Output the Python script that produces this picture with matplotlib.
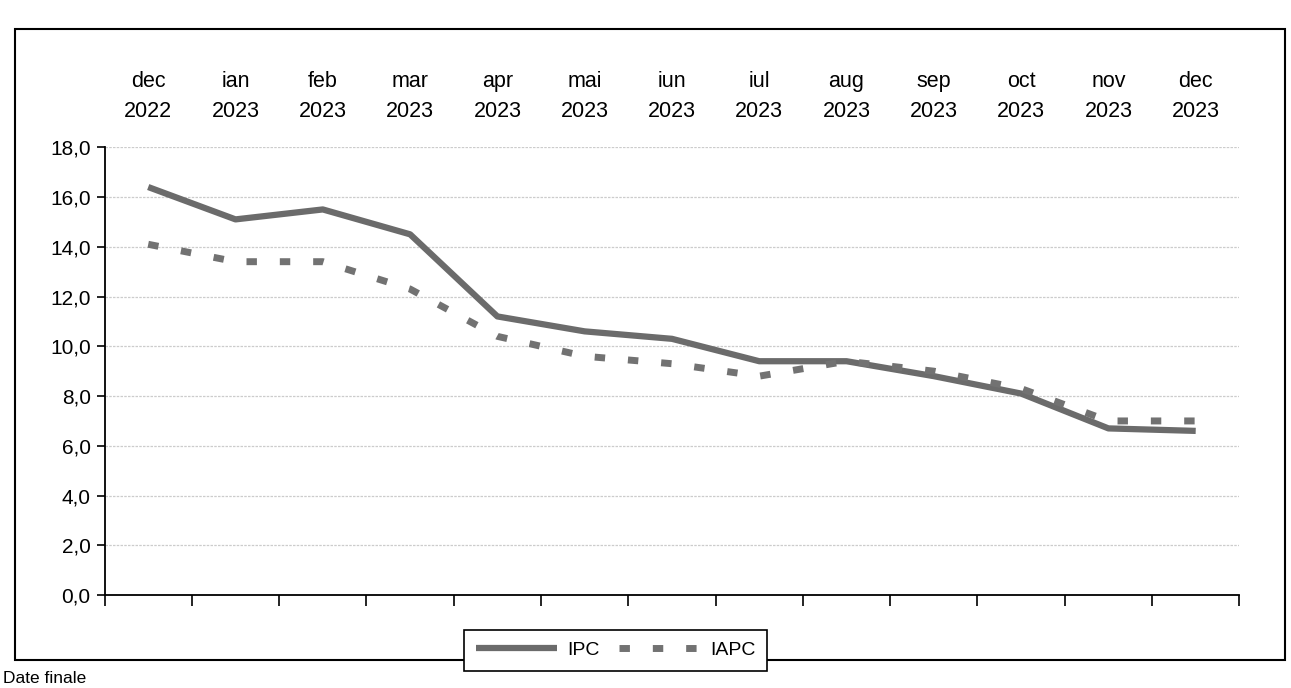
import matplotlib
matplotlib.use("Agg")
import matplotlib.pyplot as plt
from matplotlib.patches import Rectangle
import numpy as np

plt.rcParams['font.family'] = ['Liberation Sans', 'DejaVu Sans']

months = ["dec", "ian", "feb", "mar", "apr", "mai", "iun",
          "iul", "aug", "sep", "oct", "nov", "dec"]
years = ["2022"] + ["2023"] * 12
ipc = [16.4, 15.1, 15.5, 14.5, 11.2, 10.6, 10.3, 9.4, 9.4, 8.8, 8.1, 6.7, 6.6]
iapc = [14.1, 13.4, 13.4, 12.3, 10.4, 9.6, 9.3, 8.8, 9.4, 9.0, 8.3, 7.0, 7.0]
y_ticks = np.arange(0, 18.1, 2)

fig = plt.figure(figsize=(12.91, 6.88), dpi=100)
ax = fig.add_axes([0.081, 0.135, 0.879, 0.651])

x = np.arange(len(months))
ax.plot(x, ipc, color='#6b6b6b', lw=4.5, solid_capstyle='butt', label='IPC')
ax.plot(x, iapc, color='#727272', lw=5, dashes=(1.5, 3.3),
        dash_capstyle='butt', label='IAPC')

ax.set_xlim(-0.5, len(months) - 0.5)
ax.set_ylim(0, 18)
ax.set_yticks(y_ticks)
ax.set_yticklabels(["{:.1f}".format(v).replace(".", ",") for v in y_ticks],
                   fontsize=15)
ax.grid(axis='y', color='#cccccc', lw=0.9, ls=(0, (2, 1)))
ax.set_axisbelow(True)

# category boundaries as ticks on the bottom axis, no labels
ax.set_xticks(np.arange(-0.5, len(months), 1))
ax.set_xticklabels([])
ax.tick_params(axis='x', direction='out', length=8, width=1.2)
ax.tick_params(axis='y', direction='out', length=6, width=1.2, pad=4)

for side in ['top', 'right']:
    ax.spines[side].set_visible(False)
for side in ['left', 'bottom']:
    ax.spines[side].set_linewidth(1.3)

# month labels above the plot
top = ax.secondary_xaxis('top')
top.set_xticks(x)
top.set_xticklabels(["{}\n{}".format(m, y) for m, y in zip(months, years)],
                    fontsize=15.5, linespacing=1.6)
top.tick_params(length=0, pad=18)
top.spines['top'].set_visible(False)

leg = fig.legend(loc='center', bbox_to_anchor=(0.477, 0.055), ncol=2,
                 fontsize=14, handlelength=4.2, columnspacing=1.0,
                 fancybox=False, edgecolor='black', framealpha=1,
                 borderpad=0.6, handletextpad=0.5)
leg.get_frame().set_linewidth(1.2)

# outer chart border
fig.patches.append(Rectangle((0.012, 0.04), 0.983, 0.918, transform=fig.transFigure,
                             fill=False, edgecolor='black', lw=1.5))

fig.text(0.002, 0.024, "Date finale", fontsize=12.5, va='top', ha='left')

fig.savefig("out.png", dpi=100)
